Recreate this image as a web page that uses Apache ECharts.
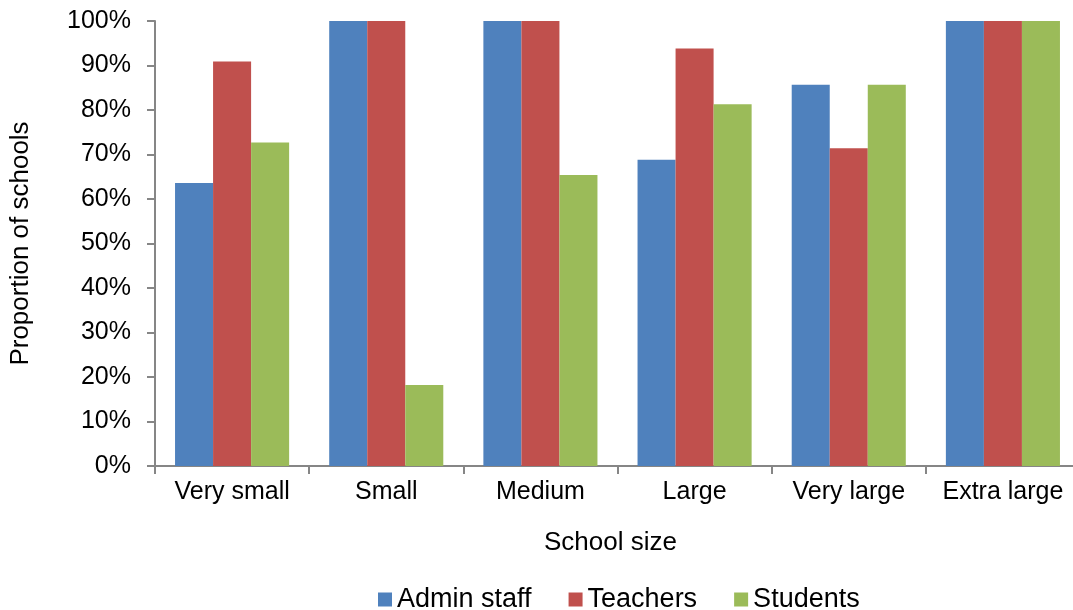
<!DOCTYPE html>
<html>
<head>
<meta charset="utf-8">
<script src="https://cdn.jsdelivr.net/npm/echarts@6/dist/echarts.min.js"></script>
<style>
  html, body { margin: 0; padding: 0; background: #fff; }
  #main { width: 1073px; height: 610px; }
</style>
</head>
<body>
<div id="main"></div>
<script>
var categories = ['Very small', 'Small', 'Medium', 'Large', 'Very large', 'Extra large'];
var adminStaff = [63.6, 100, 100, 68.8, 85.7, 100];
var teachers = [90.9, 100, 100, 93.8, 71.4, 100];
var students = [72.7, 18.2, 65.4, 81.3, 85.7, 100];

var font = 'Liberation Sans, Arial, sans-serif';
var axisGray = '#868686';

var myChart = echarts.init(document.getElementById('main'));
myChart.setOption({
  backgroundColor: '#fff',
  animation: false,
  textStyle: { fontFamily: font, color: '#000' },
  grid: { left: 155, width: 925, top: 21, bottom: 144, containLabel: false, outerBoundsMode: 'none' },
  legend: {
    top: 581,
    left: 373,
    icon: 'rect',
    itemWidth: 14,
    itemHeight: 14,
    itemGap: 37,
    textStyle: { fontSize: 27, color: '#000', fontFamily: font },
    data: ['Admin staff', 'Teachers', 'Students']
  },
  xAxis: {
    type: 'category',
    data: categories,
    name: 'School size',
    nameLocation: 'middle',
    nameGap: 64,
    nameTextStyle: { fontSize: 26, color: '#000', fontFamily: font, padding: [0, 14, 0, 0] },
    axisLine: { lineStyle: { color: axisGray, width: 2 } },
    axisTick: { show: true, interval: 0, length: 8, lineStyle: { color: axisGray, width: 2 } },
    axisLabel: { interval: 0, fontSize: 25, color: '#000', margin: 14, fontFamily: font }
  },
  yAxis: {
    type: 'value',
    min: 0,
    max: 100,
    interval: 10,
    name: 'Proportion of schools',
    nameLocation: 'middle',
    nameGap: 121,
    nameTextStyle: { fontSize: 26, color: '#000', fontFamily: font },
    axisLine: { show: true, lineStyle: { color: axisGray, width: 2 } },
    axisTick: { show: true, length: 8, lineStyle: { color: axisGray, width: 2 } },
    splitLine: { show: false },
    axisLabel: {
      fontSize: 25, color: '#000', margin: 24, fontFamily: font,
      formatter: function (v) { return v + '%'; }
    }
  },
  series: [
    {
      name: 'Admin staff', type: 'bar', data: adminStaff,
      barGap: '0%', barCategoryGap: '26%',
      itemStyle: { color: '#4F81BD' }
    },
    {
      name: 'Teachers', type: 'bar', data: teachers,
      barGap: '0%', barCategoryGap: '26%',
      itemStyle: { color: '#C0504D' }
    },
    {
      name: 'Students', type: 'bar', data: students,
      barGap: '0%', barCategoryGap: '26%',
      itemStyle: { color: '#9BBB59' }
    }
  ]
});
</script>
</body>
</html>
